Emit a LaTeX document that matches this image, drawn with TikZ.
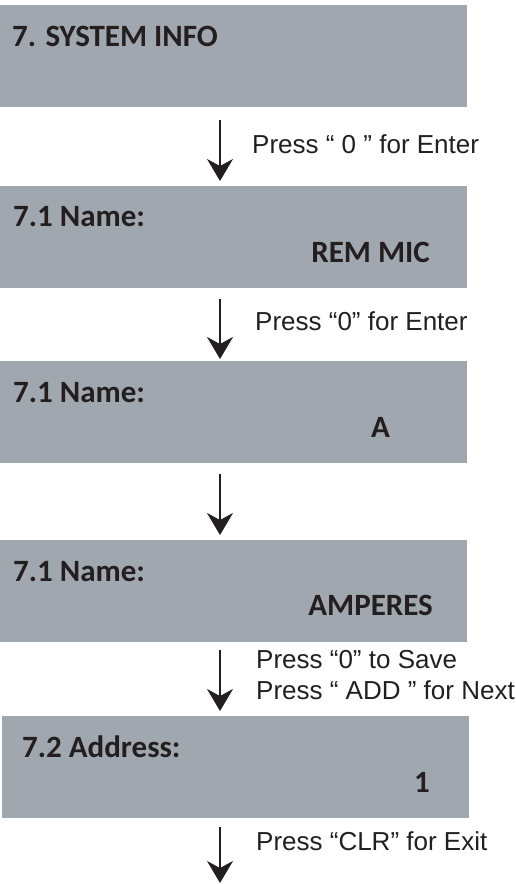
\documentclass[tikz,border=0pt]{standalone}
\usepackage{fontspec}
\setmainfont{Liberation Sans}
\newfontfamily\lcdfont{Carlito}
\usetikzlibrary{arrows.meta}
\definecolor{lcdgray}{HTML}{A1A7AE}
\definecolor{inkdark}{HTML}{231F20}
\begin{document}
\begin{tikzpicture}[x=1pt, y=-1pt,
    screen/.style={rectangle, fill=lcdgray, draw=none, anchor=north west, minimum width=467pt, minimum height=102pt, inner sep=0pt},
    lcdtext/.style={font=\lcdfont\bfseries\fontsize{31}{31}\selectfont, text=inkdark, inner sep=0pt},
    keytext/.style={font=\fontsize{26}{26}\selectfont, text=inkdark, anchor=base west, inner sep=0pt},
    flow/.style={line width=1.2pt, inkdark, -{Stealth[length=22pt, width=26pt, inset=7pt]}}]
    \useasboundingbox (0,0) rectangle (515,884);
    \coordinate (ax) at (220,0);
    \node[screen] (s1) at (0,5) {};
    \node[screen] (s2) at (0,186) {};
    \node[screen] (s3) at (0,361) {};
    \node[screen] (s4) at (0,540) {};
    \node[screen] (s5) at (2,716) {};
    \node[lcdtext, anchor=base west] (t1) at (12,46) {7. SYSTEM INFO};
    \node[lcdtext, anchor=base west] (t2) at (13,226) {7.1 Name:};
    \node[lcdtext, anchor=base east] (v2) at (430,262) {REM MIC};
    \node[lcdtext, anchor=base west] (t3) at (13,402) {7.1 Name:};
    \node[lcdtext, anchor=base east] (v3) at (390,437) {A};
    \node[lcdtext, anchor=base west] (t4) at (13,581) {7.1 Name:};
    \node[lcdtext, anchor=base east] (v4) at (433,615) {AMPERES};
    \node[lcdtext, anchor=base west] (t5) at (22,757) {7.2 Address:};
    \node[lcdtext, anchor=base east] (v5) at (430,792) {1};
    \node[keytext] (k1) at (252,153) {Press “ 0 ” for Enter};
    \node[keytext] (k2) at (255,330) {Press “0” for Enter};
    \node[keytext] (k4a) at (256,668) {Press “0” to Save};
    \node[keytext] (k4b) at (256,699) {Press “ ADD ” for Next};
    \node[keytext] (k5) at (256,850) {Press “CLR” for Exit};
    \coordinate (exit) at (220,883);
    \draw[flow, shorten <=13pt, shorten >=5pt] (s1.south -| ax) -- (s2.north -| ax);
    \draw[flow, shorten <=11pt, shorten >=2pt] (s2.south -| ax) -- (s3.north -| ax);
    \draw[flow, shorten <=11pt, shorten >=5pt] (s3.south -| ax) -- (s4.north -| ax);
    \draw[flow, shorten <=8pt, shorten >=5pt] (s4.south -| ax) -- (s5.north -| ax);
    \draw[flow, shorten <=9pt] (s5.south -| ax) -- (exit);
\end{tikzpicture}
\end{document}
